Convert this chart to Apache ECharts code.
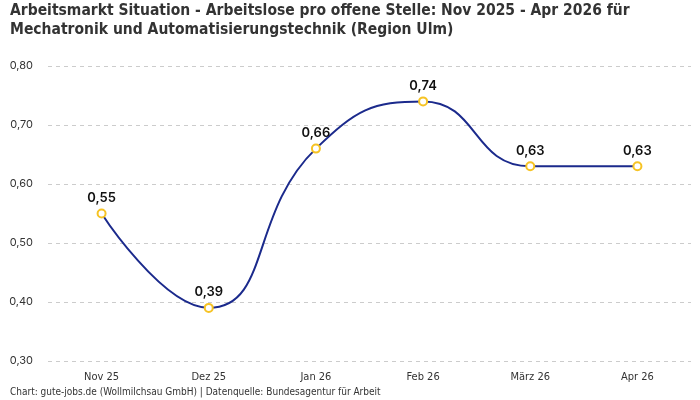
<!DOCTYPE html>
<html>
<head>
<meta charset="utf-8">
<script src="https://cdn.jsdelivr.net/npm/echarts@6/dist/echarts.min.js"></script>
<style>
  html, body { margin: 0; padding: 0; background: #fff; }
  #chart { width: 700px; height: 400px; }
</style>
</head>
<body>
<div id="chart"></div>
<script>
// months and values (Arbeitslose pro offene Stelle)
const months = ['Nov 25', 'Dez 25', 'Jan 26', 'Feb 26', 'März 26', 'Apr 26'];
const ratio = [0.55, 0.39, 0.66, 0.74, 0.63, 0.63];
const yTicks = { min: 0.3, max: 0.8, step: 0.1 };

const fmt = v => v.toFixed(2).replace('.', ',');

const chart = echarts.init(document.getElementById('chart'));
chart.setOption({
    animation: false,
    title: {
        text: 'Arbeitsmarkt Situation - Arbeitslose pro offene Stelle: Nov 2025 - Apr 2026 für\nMechatronik und Automatisierungstechnik (Region Ulm)',
        left: 10,
        top: 1,
        padding: 0,
        textStyle: {
            fontFamily: 'DejaVu Sans Condensed',
            fontWeight: 'bold',
            fontSize: 15.5,
            lineHeight: 19,
            color: '#333'
        }
    },
    graphic: [{
        type: 'text',
        left: 10,
        top: 387,
        style: {
            text: 'Chart: gute-jobs.de (Wollmilchsau GmbH) | Datenquelle: Bundesagentur für Arbeit',
            font: '10px "DejaVu Sans Condensed"',
            fill: '#333'
        }
    }],
    grid: { left: 48, right: 9, top: 66, bottom: 39 },
    xAxis: {
        type: 'category',
        data: months,
        axisLine: { show: false },
        axisTick: { show: false },
        axisLabel: {
            margin: 11,
            fontFamily: 'DejaVu Sans Condensed',
            fontSize: 11,
            color: '#333'
        }
    },
    yAxis: {
        type: 'value',
        min: yTicks.min,
        max: yTicks.max,
        interval: yTicks.step,
        axisLabel: {
            formatter: fmt,
            margin: 15,
            fontFamily: 'Inter',
            fontSize: 11,
            color: '#333'
        },
        splitLine: { lineStyle: { type: [4, 4], color: '#ccc' } }
    },
    series: [{
        type: 'line',
        data: ratio,
        smooth: true,
        symbol: 'circle',
        symbolSize: 8,
        lineStyle: { color: '#1b2a8c', width: 2 },
        itemStyle: { color: '#fff', borderColor: '#f6c324', borderWidth: 2 },
        label: {
            show: true,
            position: 'top',
            distance: 4,
            formatter: p => fmt(p.value),
            fontFamily: 'Inter',
            fontWeight: 600,
            fontSize: 13,
            color: '#111'
        }
    }]
});
</script>
</body>
</html>
